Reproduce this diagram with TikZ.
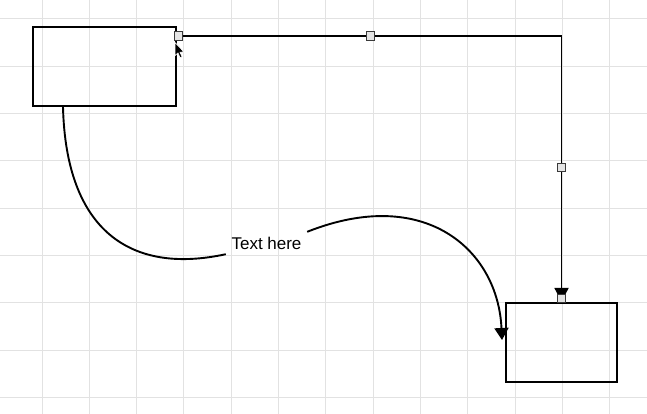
\documentclass[tikz,border=0pt]{standalone}
\usepackage{fontspec}
\newfontfamily\labfont{Liberation Sans}
\usetikzlibrary{arrows.meta}
\definecolor{gridc}{HTML}{E2E2E2}
\definecolor{handlefill}{HTML}{E4E4E4}
\definecolor{handledraw}{HTML}{3A3A3A}
\tikzset{
  gridline/.style={draw=gridc, line width=1pt},
  shapebox/.style={draw=black, line width=2.3pt, inner sep=0pt, rectangle},
  conn/.style={draw=black, line width=1.9pt},
  handle/.style={draw=handledraw, fill=handlefill, line width=0.9pt, inner sep=0pt, minimum width=8pt, minimum height=8.5pt, rectangle},
  lbl/.style={font=\labfont\fontsize{17}{20}\selectfont, inner sep=0pt, minimum width=81pt, minimum height=22pt},
}
\begin{document}
\begin{tikzpicture}[x=1pt, y=-1pt]
\fill[white] (0,0) rectangle (647,414);
\useasboundingbox (0,0) rectangle (647,414);
% grid
\foreach \i in {0,...,12} {\draw[gridline] ({42+47.3*\i},0) -- ({42+47.3*\i},414);}
\foreach \j in {0,...,8} {\draw[gridline] (0,{19+47.3*\j}) -- (647,{19+47.3*\j});}
% boxes
\node[shapebox, minimum width=143pt, minimum height=79pt] (b1) at (104.5,66.5) {};
\node[shapebox, minimum width=111pt, minimum height=79pt] (b2) at (561.5,342.5) {};
% label
\node[lbl] (t) at (266.5,243) {Text here};
% orthogonal connector
\coordinate (o1) at (176,36);
\draw[conn, -{Triangle[width=14pt,length=14pt]}] (o1) -| (b2.north);
% curved connector
\coordinate (c1) at (63,107);
\coordinate (c2) at (502,340);
\draw[conn] (c1) .. controls (66,230) and (130,275) .. (t.south west);
\draw[conn, -{Triangle[width=14pt,length=12pt]}] (t.north east) .. controls (425,185) and (498,250) .. (c2);
% handles
\node[handle] (h1) at (178.7,35.8) {};
\node[handle] (h2) at (370,36) {};
\node[handle] (h3) at (561.5,167.5) {};
\node[handle] (h4) at (561.5,298.5) {};
% cursor
\begin{scope}[shift={(175,42.5)}, scale=1.15]
\filldraw[fill=black, draw=white, line width=0.6pt, line join=round]
  (0,0) -- (0,11.5) -- (2.6,9) -- (4.4,13.2) -- (6.1,12.5) -- (4.3,8.4) -- (7.8,8.2) -- cycle;
\end{scope}
\end{tikzpicture}
\end{document}
